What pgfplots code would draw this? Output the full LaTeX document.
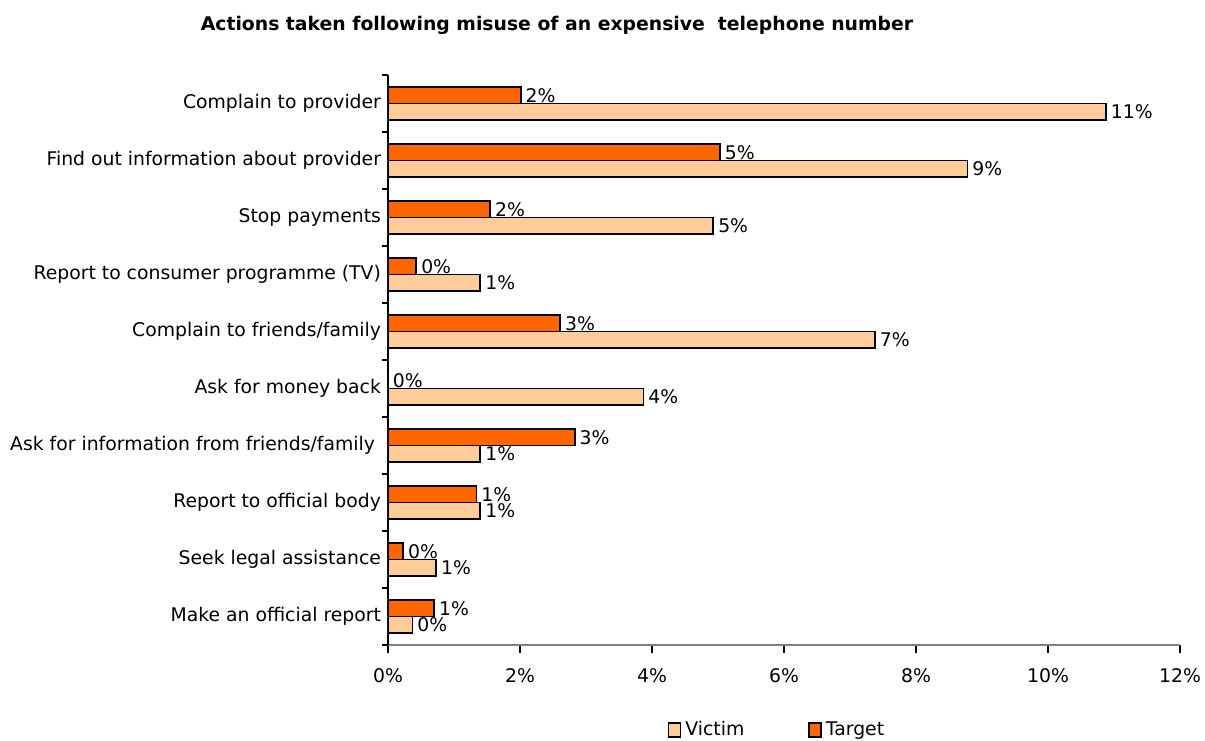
\documentclass[border=0pt]{standalone}
\usepackage{pgfplots}
\pgfplotsset{compat=1.18}
\usepackage{fontspec}
\setmainfont{DejaVu Sans}
\definecolor{victim}{HTML}{FFCC99}
\definecolor{target}{HTML}{FF6600}
\newcommand{\lbl}{\fontsize{9.4}{11}\selectfont}
\begin{document}
\begin{tikzpicture}
\path[use as bounding box] (-194pt,-47.5pt) rectangle (408.5pt,322.5pt);
\begin{axis}[
  at={(0pt,0pt)}, anchor=south west,
  width=396pt, height=285pt, scale only axis,
  xbar,
  xmin=0, xmax=12, ymin=-0.5, ymax=9.5,
  xtick={0,2,4,6,8,10,12},
  xticklabel={\pgfmathprintnumber{\tick}\%},
  /pgf/number format/assume math mode=true,
  ytick={0,1,2,3,4,5,6,7,8,9},
  yticklabels={Make an official report, Seek legal assistance, Report to official body, Ask for information from friends/family\kern3pt, Ask for money back, Complain to friends/family, Report to consumer programme (TV), Stop payments, Find out information about provider, Complain to provider},
  minor ytick={-0.5,0.5,1.5,2.5,3.5,4.5,5.5,6.5,7.5,8.5,9.5},
  major tick length=4pt,
  minor tick length=3pt,
  tick align=outside,
  major y tick style={draw=none},
  minor y tick style={draw=black, line width=0.6pt},
  x tick style={draw=black, line width=0.6pt},
  axis x line*=bottom, axis y line*=left,
  x axis line style={draw=gray, line width=1pt},
  y axis line style={draw=black, line width=1pt},
  ticklabel style={font=\lbl},
  xticklabel style={yshift=-4pt},
  yticklabel style={xshift=4pt},
  point meta=x,
  nodes near coords={\pgfmathprintnumber[fixed,precision=0]{\pgfplotspointmeta}\%},
  every node near coord/.append style={font=\lbl, anchor=west, inner sep=2pt},
  legend style={at={(axis description cs:0.4924,-0.149)}, anchor=center, draw=none, font=\lbl, legend columns=2, /tikz/every even column/.append style={column sep=30pt}},
]
\addplot[xbar, bar width=0.29, bar shift=-0.145, fill=victim, draw=black, line width=0.9pt,
  legend image code/.code={\draw[fill=victim, draw=black, line width=0.8pt] (0pt,-3.5pt) rectangle (6pt,3.5pt);}]
  coordinates {(0.37,0) (0.73,1) (1.40,2) (1.40,3) (3.87,4) (7.38,5) (1.40,6) (4.93,7) (8.78,8) (10.88,9)};
\addlegendentry{Victim}
\addplot[xbar, bar width=0.29, bar shift=0.145, fill=target, draw=black, line width=0.9pt,
  legend image code/.code={\draw[fill=target, draw=black, line width=0.8pt] (0pt,-3.5pt) rectangle (6pt,3.5pt);}]
  coordinates {(0.70,0) (0.23,1) (1.34,2) (2.83,3) (0,4) (2.61,5) (0.43,6) (1.55,7) (5.03,8) (2.01,9)};
\addlegendentry{Target}
\end{axis}
\node[font=\bfseries\fontsize{9.4}{11}\selectfont] at (84.5pt,310pt) {Actions taken following misuse of an expensive\ \ telephone number};
\end{tikzpicture}
\end{document}
